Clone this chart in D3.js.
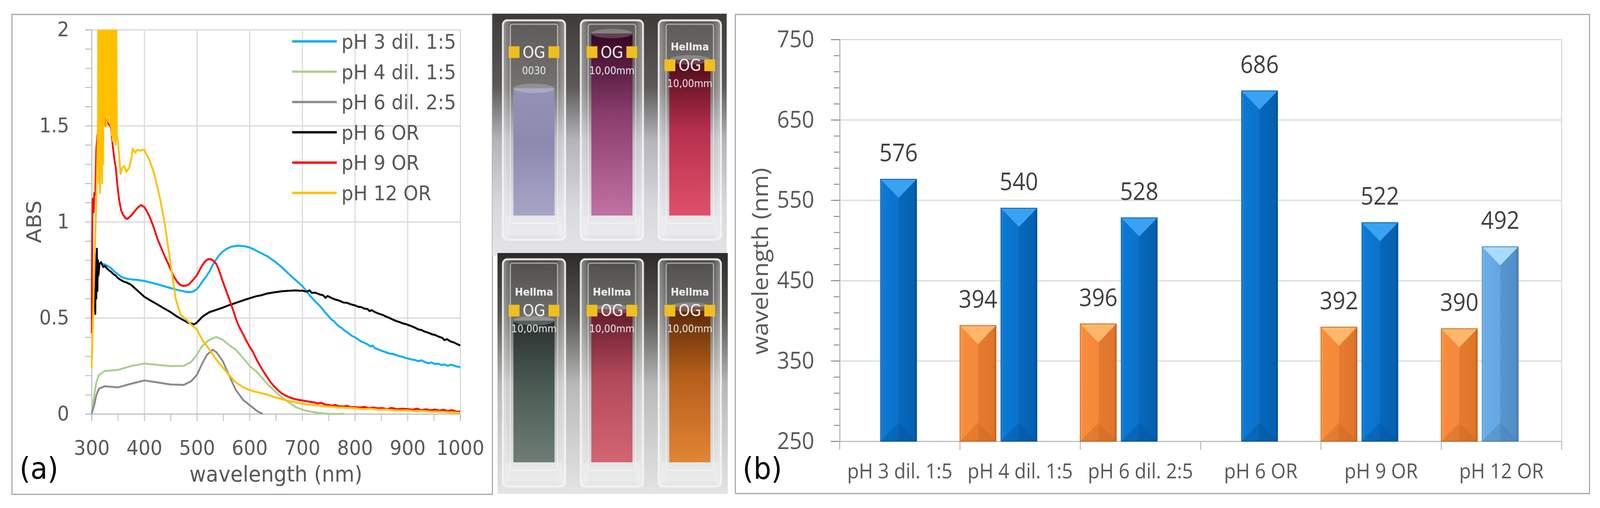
<!DOCTYPE html>
<html>
<head>
<meta charset="utf-8">
<script src="https://cdn.jsdelivr.net/npm/d3@7"></script>
<style>
  html, body { margin: 0; padding: 0; background: #fff; overflow: hidden; }
  svg { display: block; width: 100vw; height: 100vh; }
  .fa { font-family: "DejaVu Sans", sans-serif; fill: #595959; }
  .fb { font-family: "Open Sans", sans-serif; fill: #595959; }
  .fp { font-family: "DejaVu Sans", sans-serif; }
</style>
</head>
<body>
<svg id="fig" viewBox="0 0 4419 1301" preserveAspectRatio="none"></svg>
<script>
// ---------- data: panel (a) absorbance spectra [wavelength nm, ABS] ----------
const seriesNames = ['pH 3 dil. 1:5', 'pH 4 dil. 1:5', 'pH 6 dil. 2:5', 'pH 6 OR', 'pH 9 OR', 'pH 12 OR']

const pH3dil = [[309,0.75],[312,0.78],[315,0.785],[320,0.78],[325,0.778],[331,0.77],[337,0.758],[343,0.742],[350,0.727],[355,0.716],[360,0.709],[368,0.703],[375,0.70],[388,0.697],[400,0.692],[412,0.684],[425,0.675],[437,0.665],[450,0.655],[462,0.646],[475,0.638],[482,0.634],[489,0.634],[495,0.64],[500,0.65],[505,0.667],[510,0.688],[517,0.713],[524,0.742],[530,0.775],[537,0.806],[543,0.828],[549,0.845],[557,0.86],[565,0.87],[577,0.876],[590,0.873],[600,0.866],[608,0.857],[615,0.846],[624,0.834],[634,0.82],[647,0.795],[661,0.764],[672,0.735],[683,0.707],[692,0.686],[700,0.666],[708,0.64],[715,0.614],[725,0.585],[735,0.557],[743,0.53],[751,0.505],[756,0.49],[760,0.484],[765,0.468],[770,0.455],[775,0.447],[781,0.432],[786,0.425],[790,0.415],[795,0.405],[800,0.399],[806,0.388],[812,0.377],[818,0.37],[824,0.362],[830,0.35],[834,0.356],[838,0.342],[846,0.334],[852,0.327],[860,0.32],[866,0.314],[872,0.312],[879,0.306],[885,0.3],[890,0.298],[895,0.292],[900,0.289],[908,0.283],[915,0.28],[920,0.274],[926,0.279],[933,0.27],[940,0.263],[945,0.268],[952,0.259],[958,0.262],[964,0.254],[970,0.258],[976,0.25],[982,0.256],[988,0.252],[994,0.246],[1000,0.244]]

const pH4dil = [[300,0.0],[303,0.06],[305,0.098],[309,0.164],[314,0.203],[325,0.223],[350,0.229],[375,0.249],[400,0.262],[425,0.255],[450,0.249],[475,0.25],[489,0.27],[500,0.308],[510,0.354],[524,0.386],[537,0.40],[549,0.386],[565,0.35],[574,0.334],[588,0.29],[600,0.25],[615,0.215],[634,0.155],[647,0.121],[661,0.087],[675,0.059],[688,0.035],[700,0.022],[715,0.012],[734,0.004],[751,0.0],[780,0.0]]

const pH6dil = [[300,0.0],[305,0.046],[309,0.098],[314,0.131],[325,0.144],[350,0.138],[375,0.157],[400,0.174],[425,0.164],[450,0.153],[475,0.151],[489,0.17],[500,0.203],[510,0.262],[519,0.308],[530,0.334],[537,0.321],[549,0.275],[565,0.177],[574,0.124],[588,0.072],[600,0.046],[615,0.013],[625,0.0]]

const pH6OR = [[305,0.55],[306,0.74],[307,0.52],[308,0.83],[309,0.6],[310,0.86],[311,0.64],[312,0.8],[313,0.72],[315,0.78],[318,0.79],[322,0.765],[325,0.77],[330,0.755],[334,0.745],[337,0.74],[341,0.728],[345,0.722],[350,0.707],[355,0.698],[360,0.69],[368,0.682],[375,0.672],[383,0.652],[390,0.635],[400,0.61],[412,0.59],[425,0.57],[437,0.55],[450,0.53],[462,0.507],[475,0.487],[483,0.475],[489,0.47],[495,0.466],[500,0.476],[505,0.49],[510,0.505],[517,0.518],[524,0.53],[535,0.54],[549,0.553],[560,0.565],[574,0.578],[587,0.59],[600,0.602],[612,0.612],[623,0.618],[634,0.627],[648,0.633],[661,0.638],[675,0.641],[688,0.643],[695,0.641],[700,0.642],[708,0.636],[714,0.643],[718,0.63],[725,0.631],[733,0.622],[740,0.617],[744,0.604],[748,0.614],[755,0.604],[762,0.596],[770,0.59],[778,0.58],[785,0.578],[793,0.57],[800,0.565],[806,0.558],[812,0.556],[818,0.548],[824,0.546],[828,0.535],[832,0.54],[838,0.53],[845,0.522],[852,0.516],[858,0.508],[866,0.499],[872,0.491],[879,0.483],[885,0.478],[890,0.472],[896,0.468],[900,0.464],[908,0.456],[915,0.448],[920,0.44],[926,0.437],[933,0.428],[940,0.422],[947,0.414],[953,0.41],[961,0.4],[966,0.396],[970,0.384],[975,0.389],[981,0.378],[988,0.372],[994,0.364],[1000,0.356]]

const pH9OR = [[300,0.42],[301,0.9],[302,1.12],[304,1.05],[305,1.15],[307,1.14],[309,1.38],[311,1.45],[314,1.5],[318,1.52],[322,1.5],[325,1.546],[327,1.5],[329,1.53],[332,1.51],[335,1.5],[337,1.49],[340,1.4],[343,1.33],[346,1.28],[349,1.19],[352,1.12],[356,1.06],[359,1.04],[364,1.02],[368,1.015],[375,1.032],[382,1.055],[388,1.075],[394,1.087],[400,1.077],[405,1.055],[410,1.028],[418,0.97],[425,0.912],[432,0.865],[439,0.82],[445,0.785],[450,0.753],[456,0.716],[462,0.69],[468,0.672],[474,0.666],[480,0.668],[485,0.675],[492,0.695],[500,0.722],[505,0.748],[510,0.773],[516,0.795],[521,0.805],[526,0.806],[531,0.798],[537,0.78],[543,0.74],[549,0.69],[557,0.63],[565,0.57],[570,0.53],[574,0.495],[580,0.455],[588,0.413],[594,0.38],[600,0.35],[606,0.325],[613,0.285],[620,0.25],[627,0.218],[634,0.189],[640,0.165],[647,0.142],[654,0.123],[661,0.107],[668,0.096],[675,0.087],[682,0.08],[688,0.076],[694,0.072],[700,0.07],[708,0.066],[715,0.063],[722,0.06],[730,0.054],[736,0.058],[743,0.049],[750,0.047],[757,0.043],[763,0.046],[770,0.04],[778,0.038],[785,0.042],[792,0.035],[800,0.035],[810,0.033],[818,0.036],[826,0.03],[835,0.033],[843,0.029],[852,0.03],[861,0.025],[870,0.031],[880,0.024],[890,0.027],[900,0.025],[910,0.022],[918,0.027],[926,0.019],[935,0.024],[944,0.018],[952,0.023],[961,0.017],[968,0.022],[976,0.014],[984,0.02],[992,0.012],[1000,0.012]]

const pH12OR = [[300,0.24],[305,0.73],[309,1.12],[312,1.5],[313,2.2],[314,1.2],[315,2.4],[316,1.15],[317,2.3],[318,1.25],[319,2.5],[320,1.2],[321,2.4],[322,1.3],[323,2.3],[324,1.5],[325,2.5],[326,1.55],[327,2.4],[328,1.5],[329,2.5],[330,1.55],[331,2.3],[332,1.52],[333,2.4],[334,1.55],[335,2.5],[336,1.5],[337,1.95],[338,1.45],[339,2.5],[340,1.42],[341,2.3],[342,1.45],[343,2.4],[344,1.42],[345,2.3],[346,1.4],[347,2.1],[348,1.45],[350,1.42],[352,1.356],[355,1.25],[358,1.28],[362,1.29],[366,1.26],[371,1.28],[375,1.32],[378,1.38],[383,1.36],[387,1.375],[392,1.37],[400,1.375],[410,1.32],[419,1.25],[430,1.12],[439,0.99],[450,0.78],[460,0.596],[469,0.517],[480,0.491],[489,0.465],[500,0.439],[510,0.386],[524,0.334],[537,0.282],[549,0.242],[565,0.19],[574,0.164],[588,0.138],[600,0.124],[610,0.116],[620,0.11],[634,0.1],[647,0.088],[661,0.077],[675,0.067],[688,0.06],[700,0.053],[720,0.046],[743,0.04],[770,0.034],[800,0.03],[815,0.025],[830,0.027],[845,0.022],[860,0.023],[880,0.018],[900,0.019],[915,0.014],[930,0.016],[945,0.011],[960,0.012],[980,0.008],[1000,0.006]]

const spectra = [pH3dil, pH4dil, pH6dil, pH6OR, pH9OR, pH12OR]
const xTicksA = [300, 400, 500, 600, 700, 800, 900, 1000]
const yTicksA = [0, 0.5, 1, 1.5, 2]

// ---------- data: panel (b) peak wavelengths ----------
const categories = ['pH 3 dil. 1:5', 'pH 4 dil. 1:5', 'pH 6 dil. 2:5', 'pH 6 OR', 'pH 9 OR', 'pH 12 OR']
const peakShort = [null, 394, 396, null, 392, 390]
const peakLong = [576, 540, 528, 686, 522, 492]
const yTicksB = [250, 350, 450, 550, 650, 750]

// ---------- data: photo inset labels ----------
const cuvetteTexts = ['0030', '10,00mm', '10,00mm', '10,00mm', '10,00mm', '10,00mm']
const cuvetteBrand = [false, false, true, true, true, true]

// ---------- styles ----------
const lineColors = ['#00b0f0', '#a9d18e', '#8c8c8c', '#000000', '#ff0000', '#ffc000']
const liquidColors = [['#9491b6', '#8c8ab0', '#a7a5c6'], ['#360722', '#8a3e6e', '#c172a2'],
                      ['#4a0b18', '#b52f4d', '#e1506a'], ['#29322f', '#4b5953', '#6f7d77'],
                      ['#621a2b', '#b2495b', '#d26671'], ['#5a2806', '#b65f1b', '#e28535']]
const liquidTop = [0.31, 0.06, 0.18, 0.27, 0.22, 0.21]
const barStyles = {
  orange: { stops: ['#ffa24f', '#f98c3b', '#f5883a', '#e67b30', '#df752b', '#c4611f'], top: '#ffb76c', edge: '#c8651f' },
  blue:   { stops: ['#2089de', '#0c79d3', '#0a72ca', '#0868bb', '#0560b0', '#034e94'], top: '#39a2f3', edge: '#0b5aa0' },
  light:  { stops: ['#7fbbef', '#6aace7', '#64a6e2', '#5896d0', '#528ec8', '#4277aa'], top: '#a9dbfc', edge: '#4a85bd' }
}
const lightCategory = 'pH 12 OR'

const svg = d3.select('#fig')
const defs = svg.append('defs')
svg.append('rect').attr('width', 4419).attr('height', 1301).attr('fill', '#fff')

const addGrad = (id, stops, vertical = true) => {
  const lg = defs.append('linearGradient').attr('id', id)
    .attr('x1', 0).attr('y1', 0).attr('x2', vertical ? 0 : 1).attr('y2', vertical ? 1 : 0)
  stops.forEach(s => lg.append('stop').attr('offset', s[0]).attr('stop-color', s[1]))
}

// =================== panel (a) ===================
const A = { left: 253, right: 1271, top: 76, bottom: 1060 }
const gA = svg.append('g')
gA.append('rect').attr('x', 33).attr('y', 37).attr('width', 1327).attr('height', 1229)
  .attr('fill', '#fff').attr('stroke', '#a6a6a6').attr('stroke-width', 3)

const xA = d3.scaleLinear().domain([300, 1000]).range([A.left, A.right])
const yA = d3.scaleLinear().domain([0, 2]).range([A.bottom, A.top])

// gridlines
gA.append('g').attr('transform', `translate(0,${A.bottom})`)
  .call(d3.axisBottom(xA).tickValues(xTicksA.slice(1)).tickSize(-(A.bottom - A.top)).tickFormat(''))
  .call(g => g.select('.domain').remove())
  .selectAll('line').attr('stroke', '#d9d9d9').attr('stroke-width', 3)
gA.append('g').attr('transform', `translate(${A.left},0)`)
  .call(d3.axisLeft(yA).tickValues(yTicksA.slice(1)).tickSize(-(A.right - A.left)).tickFormat(''))
  .call(g => g.select('.domain').remove())
  .selectAll('line').attr('stroke', '#d9d9d9').attr('stroke-width', 3)

// axes
const yMinorA = d3.range(21).map(i => i / 10)
const yAxisA = gA.append('g').attr('transform', `translate(${A.left},0)`)
  .call(d3.axisLeft(yA).tickValues(yMinorA).tickSize(18).tickPadding(44)
    .tickFormat(d => yTicksA.includes(d) ? d3.format('~g')(d) : ''))
const xMinorA = d3.range(15).map(i => 300 + i * 50)
const xAxisA = gA.append('g').attr('transform', `translate(0,${A.bottom})`)
  .call(d3.axisBottom(xA).tickValues(xMinorA).tickSize(18).tickPadding(50)
    .tickFormat(d => xTicksA.includes(d) ? d : ''))
;[yAxisA, xAxisA].forEach(ax => {
  ax.attr('font-size', null).attr('font-family', null)
  ax.selectAll('.domain').attr('stroke', '#bfbfbf').attr('stroke-width', 3)
  ax.selectAll('.tick line').attr('stroke', '#bfbfbf').attr('stroke-width', 2.5)
  ax.selectAll('text').attr('class', 'fa').style('font-size', '52px')
})

// lines
defs.append('clipPath').attr('id', 'clipA').append('rect')
  .attr('x', A.left - 2).attr('y', A.top).attr('width', A.right - A.left + 6).attr('height', A.bottom - A.top + 4)
const line = d3.line().x(d => xA(d[0])).y(d => yA(d[1]))
gA.append('g').attr('clip-path', 'url(#clipA)')
  .selectAll('path').data(spectra).join('path')
  .attr('d', line).attr('fill', 'none')
  .attr('stroke', (d, i) => lineColors[i]).attr('stroke-width', 5)
  .attr('stroke-linejoin', 'round')

// legend
const legA = gA.append('g').selectAll('g').data(seriesNames).join('g')
  .attr('transform', (d, i) => `translate(807,${106 + i * 77.6})`)
legA.append('line').attr('x1', 0).attr('x2', 123)
  .attr('stroke', (d, i) => lineColors[i]).attr('stroke-width', 6)
legA.append('text').attr('class', 'fa').attr('x', 136).attr('y', 19)
  .style('font-size', '52px').text(d => d)

// titles
gA.append('text').attr('class', 'fa').attr('x', (A.left + A.right) / 2).attr('y', 1233)
  .attr('text-anchor', 'middle').style('font-size', '56px').text('wavelength (nm)')
gA.append('text').attr('class', 'fa')
  .attr('transform', `translate(95,${(A.top + A.bottom) / 2}) rotate(-90)`)
  .attr('text-anchor', 'middle').attr('dominant-baseline', 'central')
  .style('font-size', '55px').text('ABS')
gA.append('text').attr('x', 54).attr('y', 1226)
  .style('font-family', '"DejaVu Sans", sans-serif').style('font-size', '77px').attr('fill', '#000')
  .text('(a)')

// =================== photo inset (drawn sketch of the cuvettes) ===================
const gP = svg.append('g')
addGrad('bgTop', [['0%', '#3e3b37'], ['30%', '#5c5a57'], ['52%', '#b3b3b9'], ['80%', '#d8d8de'], ['100%', '#e4e4e8']])
addGrad('bgBot', [['0%', '#2c2b29'], ['25%', '#55544f'], ['55%', '#b9b9b9'], ['100%', '#e4e4e4']])
addGrad('glass', [['0%', 'rgba(255,255,255,0.45)'], ['15%', 'rgba(255,255,255,0.15)'],
                  ['85%', 'rgba(255,255,255,0.15)'], ['100%', 'rgba(255,255,255,0.45)']], false)
gP.append('rect').attr('x', 1360).attr('y', 35).attr('width', 647).attr('height', 620).attr('fill', 'url(#bgTop)')
gP.append('rect').attr('x', 1374).attr('y', 648).attr('width', 636).attr('height', 617).attr('fill', 'url(#bgBot)')

const cx = d3.scaleBand().domain([0, 1, 2]).range([1378, 2002]).paddingInner(0.2).paddingOuter(0.05)
liquidColors.forEach((c, i) => addGrad('liq' + i, [['0%', c[0]], ['45%', c[1]], ['100%', c[2]]]))
cuvetteTexts.forEach((t, i) => {
  const row = Math.floor(i / 3)
  const x = cx(i % 3), w = cx.bandwidth(), mid = x + w / 2
  const y = row === 0 ? 52 : 664, h = row === 0 ? 562 : 582
  const g = gP.append('g')
  g.append('rect').attr('x', x).attr('y', y).attr('width', w).attr('height', h).attr('rx', 12)
    .attr('fill', 'url(#glass)').attr('stroke', 'rgba(245,245,245,0.9)').attr('stroke-width', 5)
  const lt = y + h * liquidTop[i], lb = y + h - 62
  g.append('rect').attr('x', x + w * 0.17).attr('y', lt).attr('width', w * 0.66).attr('height', lb - lt)
    .attr('fill', `url(#liq${i})`)
  g.append('ellipse').attr('cx', mid).attr('cy', lt).attr('rx', w * 0.33).attr('ry', 12)
    .attr('fill', 'rgba(255,255,255,0.22)')
  g.append('rect').attr('x', x + w * 0.12).attr('y', y + 10).attr('width', w * 0.76).attr('height', h - 52)
    .attr('rx', 6).attr('fill', 'none').attr('stroke', 'rgba(255,255,255,0.5)').attr('stroke-width', 3)
  g.append('rect').attr('x', x + 8).attr('y', lb).attr('width', w - 16).attr('height', 50)
    .attr('fill', 'rgba(255,255,255,0.25)')
  const ly = y + (row === 0 ? (cuvetteBrand[i] ? 0.23 : 0.17) : 0.25) * h
  g.append('rect').attr('x', mid - 70).attr('y', ly - 29).attr('width', 30).attr('height', 30).attr('fill', '#efbe20')
  g.append('rect').attr('x', mid + 40).attr('y', ly - 29).attr('width', 30).attr('height', 30).attr('fill', '#efbe20')
  g.append('text').attr('class', 'fp').attr('x', mid).attr('y', ly).attr('text-anchor', 'middle')
    .style('font-size', '40px').attr('fill', '#f2f2f2').text('OG')
  g.append('text').attr('class', 'fp').attr('x', mid).attr('y', ly + 42).attr('text-anchor', 'middle')
    .style('font-size', '26px').attr('fill', '#e6e6e6').text(t)
  if (cuvetteBrand[i]) {
    g.append('text').attr('class', 'fp').attr('x', mid).attr('y', ly - 52).attr('text-anchor', 'middle')
      .style('font-size', '27px').style('font-weight', 'bold').attr('fill', '#eeeeee').text('Hellma')
  }
})

// =================== panel (b) ===================
const B = { left: 2319, right: 4313, top: 101, bottom: 1130 }
const gB = svg.append('g')
gB.append('rect').attr('x', 2031).attr('y', 37).attr('width', 2359).attr('height', 1227)
  .attr('fill', '#fff').attr('stroke', '#a6a6a6').attr('stroke-width', 3)

const x0 = d3.scaleBand().domain(categories).range([B.left, B.right])
const x1 = d3.scaleBand().domain(['short', 'long', 'none']).range([0, x0.bandwidth()])
  .paddingInner(0.12).paddingOuter(0.03).align(0)
const yB = d3.scaleLinear().domain([250, 750]).range([B.bottom, B.top])

// gridlines + right border
gB.append('g').attr('transform', `translate(${B.left},0)`)
  .call(d3.axisLeft(yB).tickValues(yTicksB.slice(1)).tickSize(-(B.right - B.left)).tickFormat(''))
  .call(g => g.select('.domain').remove())
  .selectAll('line').attr('stroke', '#d9d9d9').attr('stroke-width', 3)
gB.append('line').attr('x1', B.right).attr('x2', B.right).attr('y1', B.top).attr('y2', B.bottom)
  .attr('stroke', '#d9d9d9').attr('stroke-width', 3)

// y axis
const yMinorB = d3.range(26).map(i => 250 + i * 20)
const yAxisMinorB = gB.append('g').attr('transform', `translate(${B.left},0)`)
  .call(d3.axisLeft(yB).tickValues(yMinorB).tickSize(16).tickFormat(''))
const yAxisB = gB.append('g').attr('transform', `translate(${B.left},0)`)
  .call(d3.axisLeft(yB).tickValues(yTicksB).tickSize(24).tickPadding(46))
// x axis: labels at centres, ticks at category borders
const xAxisB = gB.append('g').attr('transform', `translate(0,${B.bottom})`)
  .call(d3.axisBottom(x0).tickSize(0).tickPadding(57))
xAxisB.selectAll('.borders').data(categories.concat(['end'])).join('line')
  .attr('x1', (d, i) => B.left + i * x0.step()).attr('x2', (d, i) => B.left + i * x0.step())
  .attr('y1', 0).attr('y2', 22).attr('stroke', '#bfbfbf').attr('stroke-width', 3)
;[yAxisMinorB, yAxisB, xAxisB].forEach(ax => {
  ax.attr('font-size', null).attr('font-family', null)
  ax.selectAll('.domain').attr('stroke', '#bfbfbf').attr('stroke-width', 3)
  ax.selectAll('.tick line').attr('stroke', '#8c8c8c').attr('stroke-width', 2.5)
})
yAxisB.selectAll('text').attr('class', 'fb').style('font-size', '60px')
xAxisB.selectAll('text').attr('class', 'fb').style('font-size', '53px')

// bar gradients
Object.entries(barStyles).forEach(([k, s]) =>
  addGrad('bar-' + k, ['0%', '7%', '50%', '50%', '93%', '100%'].map((o, j) => [o, s.stops[j]]), false))

const barData = categories.flatMap((c, i) => [
  { cat: c, series: 'short', v: peakShort[i] },
  { cat: c, series: 'long', v: peakLong[i] }
]).filter(d => d.v != null)
const variant = d => d.series === 'short' ? 'orange' : (d.cat === lightCategory ? 'light' : 'blue')

const bars = gB.append('g').selectAll('g').data(barData).join('g')
bars.each(function (d) {
  const g = d3.select(this)
  const s = barStyles[variant(d)]
  const x = x0(d.cat) + x1(d.series), w = x1.bandwidth()
  const y = yB(d.v), h = yB(250) - yB(d.v)
  const bev = w * 0.48
  g.append('rect').attr('x', x).attr('y', y).attr('width', w).attr('height', h)
    .attr('fill', `url(#bar-${variant(d)})`)
  g.append('path').attr('d', `M${x},${y}L${x + w},${y}L${x + w / 2},${y + bev}Z`).attr('fill', s.top)
  g.append('path').attr('d', `M${x},${y + h}L${x + w},${y + h}L${x + w / 2},${y + h - bev}Z`)
    .attr('fill', s.stops[5]).attr('opacity', 0.35)
  g.append('rect').attr('x', x).attr('y', y).attr('width', w).attr('height', h)
    .attr('fill', 'none').attr('stroke', s.edge).attr('stroke-width', 2)
  g.append('text').attr('class', 'fb').attr('x', x + w / 2).attr('y', y - 46)
    .attr('text-anchor', 'middle').style('font-size', '62px')
    .style('fill', '#404040').text(d.v)
})

// titles
gB.append('text').attr('class', 'fb')
  .attr('transform', 'translate(2097,669) rotate(-90)')
  .attr('text-anchor', 'middle').attr('dominant-baseline', 'central')
  .style('font-size', '62px').text('wavelength (nm)')
gB.append('text').attr('x', 2051).attr('y', 1226)
  .style('font-family', '"DejaVu Sans", sans-serif').style('font-size', '77px').attr('fill', '#000')
  .text('(b)')
</script>
</body>
</html>
